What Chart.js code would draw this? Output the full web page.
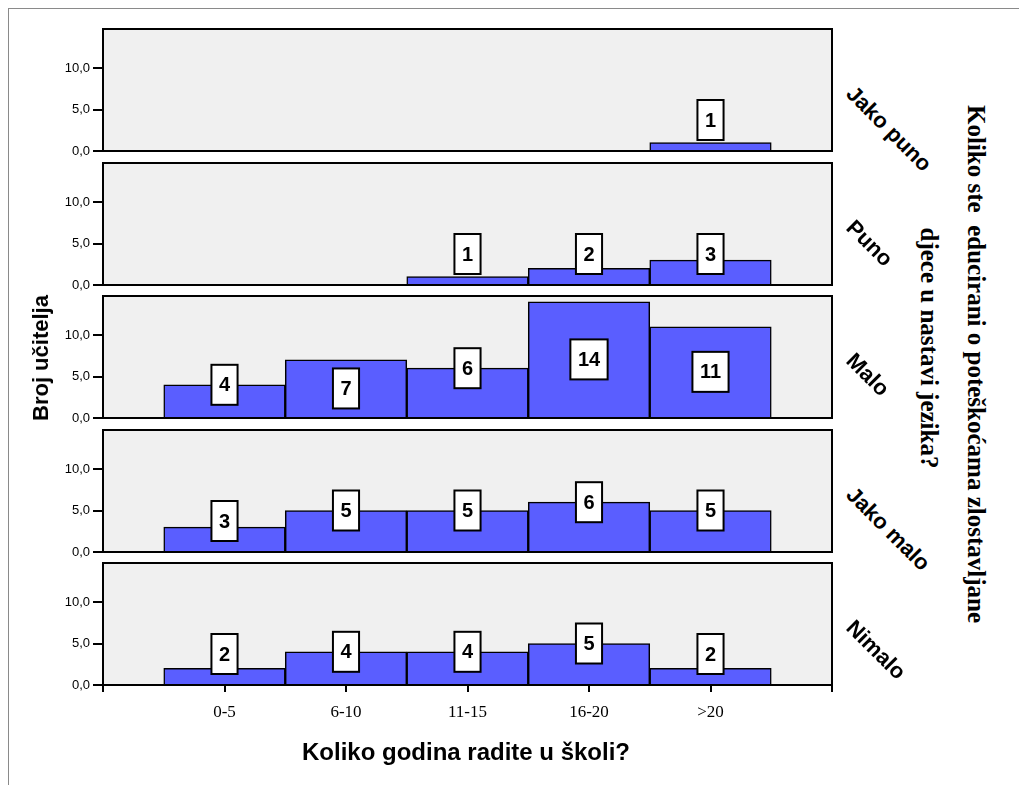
<!DOCTYPE html>
<html>
<head>
<meta charset="utf-8">
<script src="https://cdn.jsdelivr.net/npm/chart.js@4.4.0/dist/chart.umd.min.js"></script>
<style>
  body { margin: 0; background: #fff; width: 1019px; height: 785px; overflow: hidden; position: relative; }
  .frame { position: absolute; left: 8px; top: 8px; width: 1020px; height: 790px; border-top: 1px solid #8a8a8a; border-left: 1px solid #8a8a8a; }
  canvas { position: absolute; left: 0; }
  .rowlab { position: absolute; font: bold 22px 'Liberation Sans', Arial, sans-serif; line-height: 24px; height: 24px;
            white-space: nowrap; transform-origin: 0 50%; transform: rotate(45deg); color: #000; }
  .vtitle { position: absolute; white-space: pre; line-height: 1; color: #000; }
</style>
</head>
<body>
<div class="frame"></div>
<div id="plots"></div>
<script>
// x categories and row (panel) categories
const categories = ['0-5', '6-10', '11-15', '16-20', '>20'];
const rowLabels = ['Jako puno', 'Puno', 'Malo', 'Jako malo', 'Nimalo'];

// counts per panel (null = no bar)
const jakoPuno = [null, null, null, null, 1];
const puno     = [null, null, 1, 2, 3];
const malo     = [4, 7, 6, 14, 11];
const jakoMalo = [3, 5, 5, 6, 5];
const nimalo   = [2, 4, 4, 5, 2];
const rows = [jakoPuno, puno, malo, jakoMalo, nimalo];

const yTicks = [0, 5, 10];
const yMax = 14.7;

const xTitle = 'Koliko godina radite u školi?';
const yTitle = 'Broj učitelja';
const rightTitle1 = 'Koliko ste  educirani o poteškoćama zlostavljane';
const rightTitle2 = 'djece u nastavi jezika?';

// panel geometry
const firstTop = 29, pitch = 133.5, panelH = 122, padTop = 8;

// grey panel background and black frame
const panelFrame = {
    id: 'panelFrame',
    beforeDatasetsDraw(chart) {
        const a = chart.chartArea, ctx = chart.ctx;
        ctx.save();
        ctx.fillStyle = '#f0f0f0';
        ctx.fillRect(a.left, a.top, a.right - a.left, a.bottom - a.top);
        ctx.restore();
    },
    afterDatasetsDraw(chart) {
        const a = chart.chartArea, ctx = chart.ctx;
        ctx.save();
        ctx.strokeStyle = '#000';
        ctx.lineWidth = 2;
        ctx.strokeRect(a.left, a.top, a.right - a.left, a.bottom - a.top);
        ctx.restore();
    }
};

// boxed value labels on the bars
const valueBoxes = {
    id: 'valueBoxes',
    afterDatasetsDraw(chart) {
        const ctx = chart.ctx;
        const meta = chart.getDatasetMeta(0);
        const data = chart.data.datasets[0].data;
        ctx.save();
        ctx.font = "bold 20px 'Liberation Sans', Arial, sans-serif";
        ctx.textAlign = 'center';
        ctx.textBaseline = 'middle';
        meta.data.forEach((bar, i) => {
            const v = data[i];
            if (v === null || v === undefined) return;
            const h = bar.base - bar.y;
            const cy = h > 55 ? (bar.y + bar.base) / 2 : Math.min(bar.y, bar.base - 30);
            const txt = String(v);
            const w = ctx.measureText(txt).width + 15;
            const bh = 40;
            ctx.fillStyle = '#fff';
            ctx.fillRect(bar.x - w / 2, cy - bh / 2, w, bh);
            ctx.strokeStyle = '#000';
            ctx.lineWidth = 2;
            ctx.strokeRect(bar.x - w / 2, cy - bh / 2, w, bh);
            ctx.fillStyle = '#000';
            ctx.fillText(txt, bar.x, cy + 1);
        });
        ctx.restore();
    }
};

function makePanel(idx, values) {
    const isLast = idx === rows.length - 1;
    const axisH = isLast ? 50 : 0;
    const padBottom = isLast ? 4 : 8;
    const canvas = document.createElement('canvas');
    const h = padTop + panelH + axisH + padBottom;
    canvas.width = 840;
    canvas.height = h;
    canvas.style.width = '840px';
    canvas.style.height = h + 'px';
    canvas.style.top = (firstTop + idx * pitch - padTop) + 'px';
    document.getElementById('plots').appendChild(canvas);

    new Chart(canvas, {
        type: 'bar',
        data: {
            labels: ['', ...categories, ''],
            datasets: [{
                data: [null, ...values, null],
                backgroundColor: '#5a5eff',
                borderColor: '#000',
                borderWidth: 1.5,
                borderSkipped: 'start',
                categoryPercentage: 1,
                barPercentage: 1
            }]
        },
        options: {
            responsive: false,
            animation: false,
            devicePixelRatio: 1,
            layout: { padding: { top: padTop, bottom: padBottom, left: 0, right: 8 } },
            plugins: { legend: { display: false }, tooltip: { enabled: false } },
            scales: {
                x: {
                    display: isLast,
                    offset: false,
                    grid: { offset: false, drawOnChartArea: false, drawTicks: true, tickLength: 7, color: '#000', lineWidth: 2 },
                    border: { display: false },
                    ticks: {
                        autoSkip: false, maxRotation: 0, padding: 10, color: '#000',
                        font: { family: "'Liberation Serif', 'Times New Roman', serif", size: 17 }
                    },
                    afterFit(scale) {
                        scale.height = axisH;
                        scale.paddingLeft = 0;
                        scale.paddingRight = 0;
                    }
                },
                y: {
                    min: 0,
                    max: yMax,
                    grid: { drawOnChartArea: false, drawTicks: true, tickLength: 10, color: '#000', lineWidth: 2 },
                    border: { display: false },
                    afterBuildTicks(scale) { scale.ticks = yTicks.map(v => ({ value: v })); },
                    ticks: {
                        padding: 3, color: '#000',
                        font: { family: "'Liberation Sans', Arial, sans-serif", size: 13 },
                        callback: v => Number(v).toFixed(1).replace('.', ',')
                    },
                    afterFit(scale) {
                        scale.width = 103;
                        scale.paddingTop = 0;
                        scale.paddingBottom = 0;
                    }
                }
            }
        },
        plugins: [panelFrame, valueBoxes]
    });

    const lab = document.createElement('div');
    lab.className = 'rowlab';
    lab.textContent = rowLabels[idx];
    lab.style.left = '850px';
    lab.style.top = (firstTop + idx * pitch + panelH / 2 - 12) + 'px';
    document.body.appendChild(lab);
}

rows.forEach((values, i) => makePanel(i, values));

function addTitle(text, cx, cy, rot, font) {
    const d = document.createElement('div');
    d.className = 'vtitle';
    d.textContent = text;
    d.style.font = font;
    d.style.lineHeight = '1';
    d.style.left = cx + 'px';
    d.style.top = cy + 'px';
    d.style.transform = 'translate(-50%, -50%) rotate(' + rot + 'deg)';
    document.body.appendChild(d);
}

addTitle(xTitle, 466, 752, 0, "bold 24px 'Liberation Sans', Arial, sans-serif");
addTitle(yTitle, 41, 358, -90, "bold 22px 'Liberation Sans', Arial, sans-serif");
addTitle(rightTitle1, 976, 364, 90, "bold 25px 'Liberation Serif', 'Times New Roman', serif");
addTitle(rightTitle2, 929, 348, 90, "bold 25px 'Liberation Serif', 'Times New Roman', serif");
</script>
</body>
</html>
